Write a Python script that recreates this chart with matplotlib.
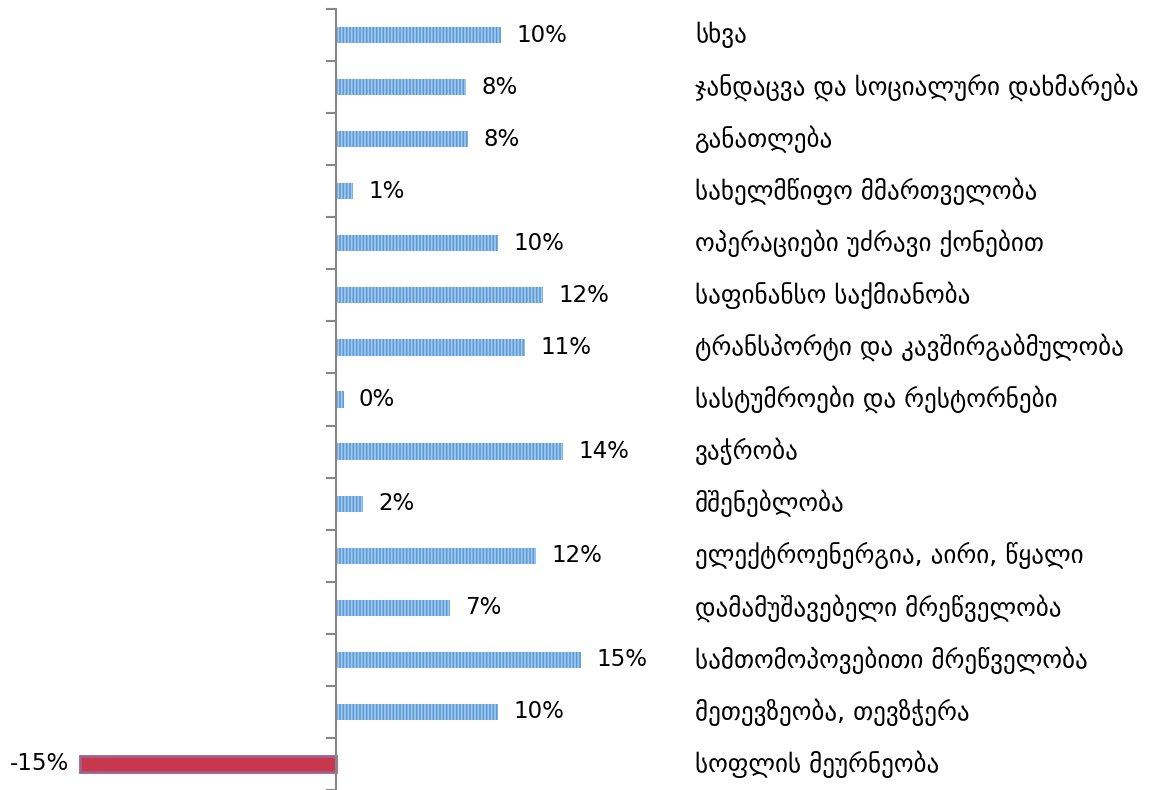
import matplotlib
matplotlib.use("Agg")
import matplotlib.pyplot as plt
import numpy as np

# sectors, top to bottom as in the chart
sectors = [
    "სხვა",
    "ჯანდაცვა და სოციალური დახმარება",
    "განათლება",
    "სახელმწიფო მმართველობა",
    "ოპერაციები უძრავი ქონებით",
    "საფინანსო საქმიანობა",
    "ტრანსპორტი და კავშირგაბმულობა",
    "სასტუმროები და რესტორნები",
    "ვაჭრობა",
    "მშენებლობა",
    "ელექტროენერგია, აირი, წყალი",
    "დამამუშავებელი მრეწველობა",
    "სამთომოპოვებითი მრეწველობა",
    "მეთევზეობა, თევზჭერა",
    "სოფლის მეურნეობა",
]
# percent change
growth = [9.9, 7.8, 7.9, 1.0, 9.7, 12.4, 11.3, 0.45, 13.6, 1.6, 12.0, 6.8, 14.7, 9.7, -15.3]

plt.rcParams['font.family'] = ['DejaVu Sans']
plt.rcParams['hatch.linewidth'] = 1.2

fig = plt.figure(figsize=(11.61, 7.90), dpi=100)
ax = fig.add_axes([0, 0, 1, 781 / 790])

px_per_pct = 16.7
ax.set_xlim(-336 / px_per_pct, (1161 - 336) / px_per_pct)
ax.set_ylim(len(sectors) - 0.5, -0.5)

y = np.arange(len(sectors))
vals = np.array(growth)
pos = vals >= 0

ax.barh(y[pos], vals[pos], height=0.31, color='#5b9bd5', edgecolor='#a4caef',
        linewidth=0, hatch='|||||')
ax.barh(y[~pos], vals[~pos], height=0.31, color='#c8374b', edgecolor='#a0608e',
        linewidth=2)

for yi, v in zip(y, vals):
    lab = '{:.0f}%'.format(v)
    if v >= 0:
        ax.annotate(lab, (v, yi), xytext=(11, 0), textcoords='offset points',
                    ha='left', va='center', fontsize=16.5, color='black')
    else:
        ax.annotate(lab, (v, yi), xytext=(-8, 0), textcoords='offset points',
                    ha='right', va='center', fontsize=16.5, color='black')

for yi, name in zip(y, sectors):
    ax.text((695 - 336) / px_per_pct, yi, name, ha='left', va='center',
            fontsize=18, color='black')

for s in ['top', 'right', 'bottom']:
    ax.spines[s].set_visible(False)
ax.spines['left'].set_position(('data', 0))
ax.spines['left'].set_color('#868686')
ax.spines['left'].set_linewidth(1.5)

ax.set_xticks([])
ax.set_yticks(np.arange(len(sectors) + 1) - 0.5)
ax.set_yticklabels([])
ax.tick_params(axis='y', direction='out', length=7, width=1.5, color='#868686')

fig.savefig('out.png', dpi=100)
